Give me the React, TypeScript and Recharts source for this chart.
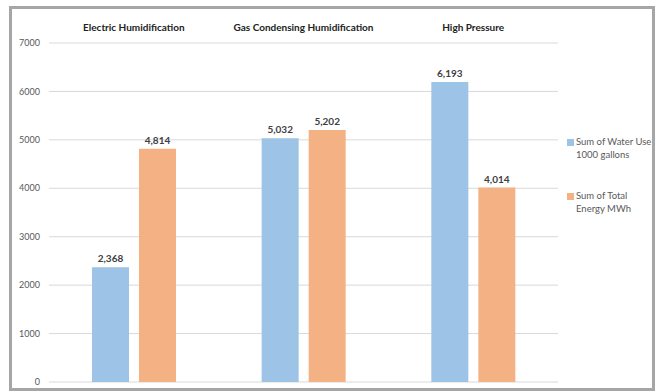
import React from "react";
import { BarChart, Bar, XAxis, YAxis, CartesianGrid, LabelList } from "recharts";

const categories = ["Electric Humidification", "Gas Condensing Humidification", "High Pressure"];
const waterUse = [2368, 5032, 6193];
const totalEnergy = [4814, 5202, 4014];
const yTicks = [0, 1000, 2000, 3000, 4000, 5000, 6000, 7000];
const seriesNames = [["Sum of Water Use", "1000 gallons"], ["Sum of Total", "Energy MWh"]];
const colors = ["#9DC3E6", "#F4B183"];

const data = categories.map((c, i) => ({ name: c, water: waterUse[i], energy: totalEnergy[i] }));

const FONT = "Lato, 'Open Sans', sans-serif";
const fmt = (v: any) => Number(v).toLocaleString("en-US");

export default function App() {
  return (
    <div style={{ position: "fixed", left: 0, top: 0, width: 657, height: 391, background: "#fff", fontFamily: FONT }}>
      <div style={{ position: "absolute", left: 9, top: 6, width: 646, height: 385, border: "3px solid #A6A6A6", boxSizing: "border-box" }} />
      <div style={{ position: "absolute", left: 0, top: 0 }}>
        <BarChart width={657} height={391} data={data} margin={{ top: 13, right: 99, bottom: 9, left: 9 }} barSize={37} barGap={10}>
          <CartesianGrid vertical={false} stroke="#D9D9D9" />
          <XAxis dataKey="name" orientation="top" height={30} axisLine={false} tickLine={false} tickSize={0} tickMargin={12}
            tick={{ fontSize: 10, fontWeight: 700, fill: "#222", fontFamily: FONT }} interval={0} />
          <YAxis domain={[0, 7000]} ticks={yTicks} width={40} axisLine={false} tickLine={false} tickSize={6} tickMargin={3}
            tick={{ fontSize: 9, fill: "#595959", fontFamily: FONT }} />
          <Bar dataKey="water" fill={colors[0]} isAnimationActive={false}>
            <LabelList dataKey="water" position="top" formatter={fmt} style={{ fontSize: 10, fontWeight: 700, fill: "#404040", fontFamily: FONT }} />
          </Bar>
          <Bar dataKey="energy" fill={colors[1]} isAnimationActive={false}>
            <LabelList dataKey="energy" position="top" formatter={fmt} style={{ fontSize: 10, fontWeight: 700, fill: "#404040", fontFamily: FONT }} />
          </Bar>
        </BarChart>
      </div>
      {seriesNames.map((lines, i) => (
        <div key={i} style={{ position: "absolute", left: 567, top: 136 + i * 54, fontSize: 9.5, color: "#595959", lineHeight: "12.5px" }}>
          <span style={{ position: "absolute", left: 0, top: 3, width: 7, height: 7, background: colors[i] }} />
          <div style={{ marginLeft: 9, whiteSpace: "nowrap" }}>{lines[0]}</div>
          <div style={{ marginLeft: 9, whiteSpace: "nowrap" }}>{lines[1]}</div>
        </div>
      ))}
    </div>
  );
}
